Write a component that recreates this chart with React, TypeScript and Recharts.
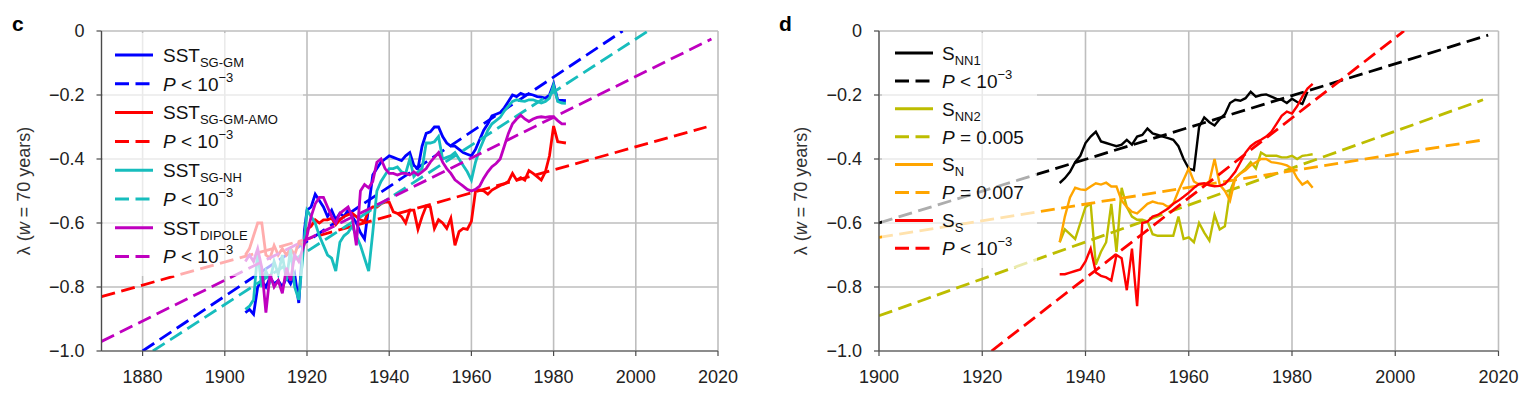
import React from "react";
import { LineChart, Line, XAxis, YAxis, CartesianGrid, Label } from "recharts";

// ---- panel c data (1905-1983) ----
const yearsC = [
  1905, 1906, 1907, 1908, 1909, 1910, 1911, 1912, 1913, 1914,
  1915, 1916, 1917, 1918, 1919, 1920, 1921, 1922, 1923, 1924,
  1925, 1926, 1927, 1928, 1929, 1930, 1931, 1932, 1933, 1934,
  1935, 1936, 1937, 1938, 1939, 1940, 1941, 1942, 1943, 1944,
  1945, 1946, 1947, 1948, 1949, 1950, 1951, 1952, 1953, 1954,
  1955, 1956, 1957, 1958, 1959, 1960, 1961, 1962, 1963, 1964,
  1965, 1966, 1967, 1968, 1969, 1970, 1971, 1972, 1973, 1974,
  1975, 1976, 1977, 1978, 1979, 1980, 1981, 1982, 1983,
];

const sstGM = [
  -0.88, -0.87, -0.885, -0.8, -0.78, -0.8, -0.77, -0.79, -0.78, -0.8,
  -0.77, -0.79, -0.76, -0.85, -0.66, -0.56, -0.55, -0.51, -0.53, -0.55,
  -0.58, -0.56, -0.59, -0.57, -0.58, -0.56, -0.58, -0.6, -0.63, -0.65,
  -0.55, -0.45, -0.43, -0.41, -0.4, -0.39, -0.395, -0.4, -0.405, -0.39,
  -0.38, -0.42, -0.43, -0.36, -0.32, -0.315, -0.3, -0.3, -0.33, -0.35,
  -0.36, -0.36, -0.37, -0.38, -0.385, -0.39, -0.37, -0.34, -0.31, -0.29,
  -0.265, -0.26, -0.255, -0.24, -0.22, -0.2, -0.205, -0.195, -0.2, -0.197,
  -0.2, -0.205, -0.207, -0.21, -0.2, -0.165, -0.216, -0.217, -0.218,
];

const sstAMO = [
  -0.7, -0.68, -0.64, -0.6, -0.6, -0.7, -0.71, -0.67, -0.7, -0.68,
  -0.7, -0.68, -0.7, -0.66, -0.67, -0.62, -0.61, -0.59, -0.6, -0.59,
  -0.59, -0.585, -0.605, -0.59, -0.58, -0.574, -0.57, -0.58, -0.59, -0.595,
  -0.56, -0.55, -0.55, -0.54, -0.535, -0.535, -0.565, -0.57, -0.58, -0.6,
  -0.56, -0.56, -0.62, -0.58, -0.547, -0.55, -0.617, -0.59, -0.6, -0.617,
  -0.585, -0.67, -0.627, -0.617, -0.62, -0.595, -0.5, -0.497, -0.5, -0.51,
  -0.497, -0.49, -0.483, -0.478, -0.47, -0.445, -0.466, -0.458, -0.466, -0.436,
  -0.445, -0.455, -0.466, -0.44, -0.39, -0.297, -0.346, -0.348, -0.35,
];

const sstNH = [
  -0.87, -0.86, -0.84, -0.69, -0.8, -0.75, -0.78, -0.72, -0.76, -0.7,
  -0.78, -0.68, -0.8, -0.84, -0.7, -0.56, -0.58, -0.6, -0.64, -0.67,
  -0.7, -0.71, -0.75, -0.66, -0.64, -0.63, -0.61, -0.64, -0.67, -0.71,
  -0.75, -0.63, -0.5, -0.47, -0.45, -0.43, -0.43, -0.425, -0.44, -0.445,
  -0.4, -0.455, -0.44, -0.43, -0.35, -0.35, -0.346, -0.33, -0.4, -0.395,
  -0.39, -0.38, -0.4, -0.42, -0.44, -0.466, -0.41, -0.37, -0.34, -0.31,
  -0.29, -0.28, -0.27, -0.25, -0.235, -0.22, -0.215, -0.218, -0.22, -0.215,
  -0.215, -0.22, -0.225, -0.22, -0.21, -0.17, -0.22, -0.225, -0.226,
];

const sstDipole = [
  -0.72, -0.7, -0.72, -0.68, -0.74, -0.88, -0.76, -0.8, -0.78, -0.82,
  -0.74, -0.78, -0.7, -0.72, -0.68, -0.64, -0.58, -0.54, -0.52, -0.52,
  -0.55, -0.58, -0.6, -0.57, -0.56, -0.55, -0.58, -0.67, -0.5, -0.48,
  -0.49, -0.47, -0.41, -0.4, -0.43, -0.445, -0.445, -0.45, -0.445, -0.445,
  -0.45, -0.44, -0.45, -0.44, -0.43, -0.41, -0.395, -0.38, -0.41, -0.43,
  -0.445, -0.465, -0.475, -0.485, -0.495, -0.5, -0.495, -0.485, -0.46, -0.44,
  -0.424, -0.414, -0.4, -0.36, -0.32, -0.29, -0.275, -0.263, -0.275, -0.283,
  -0.275, -0.27, -0.268, -0.27, -0.268, -0.268, -0.28, -0.29, -0.29,
];

// fitted trend lines, [year, value] end points
const gmFit = [[1880, -1.0], [1996.8, 0]];
const amoFit = [[1870, -0.83], [2017.2, -0.3]];
const nhFit = [[1882.5, -1.0], [2003, 0]];
const dipoleFit = [[1870, -0.97], [2018.4, -0.025]];

// ---- panel d data (1935-1984) ----
const yearsD = [
  1935, 1936, 1937, 1938, 1939, 1940, 1941, 1942, 1943, 1944,
  1945, 1946, 1947, 1948, 1949, 1950, 1951, 1952, 1953, 1954,
  1955, 1956, 1957, 1958, 1959, 1960, 1961, 1962, 1963, 1964,
  1965, 1966, 1967, 1968, 1969, 1970, 1971, 1972, 1973, 1974,
  1975, 1976, 1977, 1978, 1979, 1980, 1981, 1982, 1983, 1984,
];

const sNN1 = [
  -0.475, -0.46, -0.44, -0.41, -0.39, -0.35, -0.33, -0.315, -0.345, -0.35,
  -0.355, -0.36, -0.355, -0.34, -0.355, -0.33, -0.325, -0.305, -0.32, -0.325,
  -0.33, -0.335, -0.34, -0.36, -0.4, -0.43, -0.435, -0.3, -0.27, -0.285,
  -0.295, -0.275, -0.26, -0.225, -0.215, -0.218, -0.21, -0.19, -0.205, -0.2,
  -0.198, -0.205, -0.212, -0.215, -0.225, -0.212, -0.222, -0.228, -0.19, null,
];

const sNN2 = [
  -0.66, -0.62, -0.635, -0.65, -0.6, -0.55, -0.54, -0.73, -0.69, -0.66,
  -0.54, -0.69, -0.49, -0.55, -0.58, -0.59, -0.59, -0.595, -0.635, -0.64,
  -0.64, -0.64, -0.64, -0.58, -0.65, -0.645, -0.66, -0.6, -0.63, -0.655,
  -0.575, -0.62, -0.61, -0.5, -0.46, -0.445, -0.43, -0.41, -0.43, -0.38,
  -0.39, -0.39, -0.39, -0.395, -0.395, -0.39, -0.4, -0.39, -0.388, -0.385,
];

const sN = [
  -0.66, -0.58, -0.52, -0.49, -0.495, -0.497, -0.486, -0.476, -0.48, -0.474,
  -0.486, -0.486, -0.53, -0.55, -0.565, -0.57, -0.555, -0.54, -0.533, -0.538,
  -0.54, -0.55, -0.54, -0.5, -0.465, -0.43, -0.47, -0.48, -0.48, -0.47,
  -0.4, -0.48, -0.5, -0.53, -0.46, -0.445, -0.435, -0.42, -0.41, -0.4,
  -0.4, -0.41, -0.412, -0.415, -0.42, -0.43, -0.46, -0.48, -0.47, -0.49,
];

const sS = [
  -0.76, -0.76, -0.755, -0.75, -0.745, -0.72, -0.68, -0.755, -0.765, -0.77,
  -0.78, -0.7, -0.71, -0.81, -0.68, -0.86, -0.6, -0.596, -0.58, -0.575,
  -0.565, -0.555, -0.54, -0.53, -0.518, -0.505, -0.49, -0.478, -0.476, -0.482,
  -0.485, -0.484, -0.478, -0.46, -0.44, -0.41, -0.38, -0.36, -0.348, -0.34,
  -0.33, -0.315, -0.29, -0.265, -0.252, -0.258, -0.235, -0.205, -0.18, -0.165,
];

const nn1Fit = [[1900, -0.6], [2018, -0.013]];
const nn2Fit = [[1900, -0.89], [2017, -0.215]];
const nFit = [[1900, -0.645], [2017.2, -0.34]];
const sFit = [[1921.8, -1.0], [2001.7, 0]];

const xTicksC = [1880, 1900, 1920, 1940, 1960, 1980, 2000, 2020];
const xTicksD = [1900, 1920, 1940, 1960, 1980, 2000, 2020];
const yTicks = [-1, -0.8, -0.6, -0.4, -0.2, 0];

const BLUE = "#0000ff";
const RED = "#ff0000";
const CYAN = "#17bdbd";
const PURPLE = "#bf00bf";
const BLACK = "#000000";
const OLIVE = "#bdbd00";
const ORANGE = "#ffa500";

const AXIS = "#4a4a4a";
const FONT = '"Liberation Sans", Arial, Helvetica, sans-serif';
const DASH = "14 6.5";

type Pt = { x: number; y: number | null };
const toPts = (xs: number[], ys: (number | null)[]): Pt[] =>
  xs.map((x, i) => ({ x, y: ys[i] }));
const fitPts = (pairs: number[][]): Pt[] => pairs.map(([x, y]) => ({ x, y }));

type Series = { key: string; color: string; data: Pt[]; dashed?: boolean; width: number };

const seriesC: Series[] = [
  { key: "gm", color: BLUE, data: toPts(yearsC, sstGM), width: 2.8 },
  { key: "gmFit", color: BLUE, data: fitPts(gmFit), dashed: true, width: 2.8 },
  { key: "amo", color: RED, data: toPts(yearsC, sstAMO), width: 2.8 },
  { key: "amoFit", color: RED, data: fitPts(amoFit), dashed: true, width: 2.8 },
  { key: "nh", color: CYAN, data: toPts(yearsC, sstNH), width: 2.8 },
  { key: "nhFit", color: CYAN, data: fitPts(nhFit), dashed: true, width: 2.8 },
  { key: "dip", color: PURPLE, data: toPts(yearsC, sstDipole), width: 2.8 },
  { key: "dipFit", color: PURPLE, data: fitPts(dipoleFit), dashed: true, width: 2.8 },
];

const seriesD: Series[] = [
  { key: "nn1", color: BLACK, data: toPts(yearsD, sNN1), width: 2.4 },
  { key: "nn1Fit", color: BLACK, data: fitPts(nn1Fit), dashed: true, width: 2.8 },
  { key: "nn2", color: OLIVE, data: toPts(yearsD, sNN2), width: 2.4 },
  { key: "nn2Fit", color: OLIVE, data: fitPts(nn2Fit), dashed: true, width: 2.8 },
  { key: "n", color: ORANGE, data: toPts(yearsD, sN), width: 2.4 },
  { key: "nFit", color: ORANGE, data: fitPts(nFit), dashed: true, width: 2.8 },
  { key: "s", color: RED, data: toPts(yearsD, sS), width: 2.4 },
  { key: "sFit", color: RED, data: fitPts(sFit), dashed: true, width: 2.8 },
];

const fmtY = (v: number) => (v === 0 ? "0" : "\u2212" + Math.abs(v).toFixed(1));

const YLabel = (props: any) => {
  const vb = props.viewBox || { x: 0, y: 31, width: 100, height: 320 };
  const x = vb.x + vb.width - 72;
  const y = vb.y + vb.height / 2;
  return (
    <text
      x={x}
      y={y}
      transform={`rotate(-90 ${x} ${y})`}
      textAnchor="middle"
      fontSize={18}
      fill="#333"
      fontFamily={FONT}
    >
      λ (<tspan fontStyle="italic">w</tspan> = 70 years)
    </text>
  );
};

function Panel(props: {
  width: number;
  yAxisWidth: number;
  marginRight: number;
  xDomain: [number, number];
  xTicks: number[];
  series: Series[];
}) {
  const { width, yAxisWidth, marginRight, xDomain, xTicks, series } = props;
  return (
    <LineChart
      width={width}
      height={397}
      margin={{ top: 31, right: marginRight, bottom: 16, left: 0 }}
      style={{ fontFamily: FONT }}
    >
      <CartesianGrid stroke="#bebebe" strokeWidth={1.6} />
      <XAxis
        dataKey="x"
        type="number"
        domain={xDomain}
        ticks={xTicks}
        allowDataOverflow
        height={30}
        tickSize={5}
        tickMargin={14}
        stroke={AXIS}
        strokeWidth={1.2}
        tick={{ fontSize: 18, fill: "#222" }}
      />
      <XAxis
        xAxisId="top"
        orientation="top"
        type="number"
        domain={xDomain}
        allowDataOverflow
        height={0}
        tick={false}
        tickLine={false}
        stroke={AXIS}
        strokeWidth={1.2}
      />
      <YAxis
        type="number"
        domain={[-1, 0]}
        ticks={yTicks}
        allowDataOverflow
        width={yAxisWidth}
        tickSize={5}
        tickMargin={12}
        tickFormatter={fmtY}
        stroke={AXIS}
        strokeWidth={1.2}
        tick={{ fontSize: 18, fill: "#222" }}
      >
        <Label content={YLabel} />
      </YAxis>
      <YAxis
        yAxisId="right"
        orientation="right"
        type="number"
        domain={[-1, 0]}
        allowDataOverflow
        width={0}
        tick={false}
        tickLine={false}
        stroke={AXIS}
        strokeWidth={1.2}
      />
      {series.map((s) => (
        <Line
          key={s.key}
          data={s.data}
          dataKey="y"
          type="linear"
          stroke={s.color}
          strokeWidth={s.width}
          strokeDasharray={s.dashed ? DASH : undefined}
          dot={false}
          activeDot={false}
          isAnimationActive={false}
        />
      ))}
    </LineChart>
  );
}

type LegendItem = {
  color: string;
  dashed: boolean;
  name?: string;
  sub?: string;
  rel?: string;
  sup?: string;
};

const legendC: LegendItem[] = [
  { color: BLUE, dashed: false, name: "SST", sub: "SG-GM" },
  { color: BLUE, dashed: true, rel: "< 10", sup: "\u22123" },
  { color: RED, dashed: false, name: "SST", sub: "SG-GM-AMO" },
  { color: RED, dashed: true, rel: "< 10", sup: "\u22123" },
  { color: CYAN, dashed: false, name: "SST", sub: "SG-NH" },
  { color: CYAN, dashed: true, rel: "< 10", sup: "\u22123" },
  { color: PURPLE, dashed: false, name: "SST", sub: "DIPOLE" },
  { color: PURPLE, dashed: true, rel: "< 10", sup: "\u22123" },
];

const legendD: LegendItem[] = [
  { color: BLACK, dashed: false, name: "S", sub: "NN1" },
  { color: BLACK, dashed: true, rel: "< 10", sup: "\u22123" },
  { color: OLIVE, dashed: false, name: "S", sub: "NN2" },
  { color: OLIVE, dashed: true, rel: "= 0.005" },
  { color: ORANGE, dashed: false, name: "S", sub: "N" },
  { color: ORANGE, dashed: true, rel: "= 0.007" },
  { color: RED, dashed: false, name: "S", sub: "S" },
  { color: RED, dashed: true, rel: "< 10", sup: "\u22123" },
];

function LegendBox(props: {
  box: [number, number, number, number];
  lineX: number;
  textX: number;
  rowY0: number;
  rowH: number;
  items: LegendItem[];
}) {
  const { box, lineX, textX, rowY0, rowH, items } = props;
  return (
    <g>
      <rect x={box[0]} y={box[1]} width={box[2]} height={box[3]} fill="#fff" fillOpacity={0.68} />
      {items.map((it, i) => {
        const y = rowY0 + i * rowH;
        return (
          <g key={i}>
            <line
              x1={lineX}
              x2={lineX + 38}
              y1={y}
              y2={y}
              stroke={it.color}
              strokeWidth={3}
              strokeDasharray={it.dashed ? DASH : undefined}
            />
            {it.name ? (
              <text x={textX} y={y + 6.8} fontSize={19} fill="#111">
                {it.name}
                <tspan fontSize={13} dy={5}>
                  {it.sub}
                </tspan>
              </text>
            ) : (
              <text x={textX} y={y + 6.8} fontSize={19} fill="#111">
                <tspan fontStyle="italic">P</tspan>
                {" " + it.rel}
                {it.sup ? (
                  <tspan fontSize={13} dy={-9}>
                    {it.sup}
                  </tspan>
                ) : null}
              </text>
            )}
          </g>
        );
      })}
    </g>
  );
}

export default function App() {
  return (
    <div
      style={{
        position: "absolute",
        left: 0,
        top: 0,
        width: 1536,
        height: 397,
        background: "#fff",
        fontFamily: FONT,
        overflow: "hidden",
      }}
    >
      <div style={{ position: "absolute", left: 0, top: 0 }}>
        <Panel
          width={750}
          yAxisWidth={101.5}
          marginRight={32}
          xDomain={[1870, 2020]}
          xTicks={xTicksC}
          series={seriesC}
        />
      </div>
      <div style={{ position: "absolute", left: 770, top: 0 }}>
        <Panel
          width={760}
          yAxisWidth={109}
          marginRight={31.5}
          xDomain={[1900, 2020]}
          xTicks={xTicksD}
          series={seriesD}
        />
      </div>
      <svg
        width={1536}
        height={397}
        style={{ position: "absolute", left: 0, top: 0, pointerEvents: "none", fontFamily: FONT }}
      >
        <LegendBox
          box={[103, 33, 200, 243]}
          lineX={115}
          textX={163}
          rowY0={55}
          rowH={28.8}
          items={legendC}
        />
        <LegendBox
          box={[882, 33, 155, 235]}
          lineX={895}
          textX={942}
          rowY0={53}
          rowH={27.9}
          items={legendD}
        />
        <text x={12} y={31} fontSize={21} fontWeight="bold" fill="#000">
          c
        </text>
        <text x={779} y={31} fontSize={21} fontWeight="bold" fill="#000">
          d
        </text>
      </svg>
    </div>
  );
}
